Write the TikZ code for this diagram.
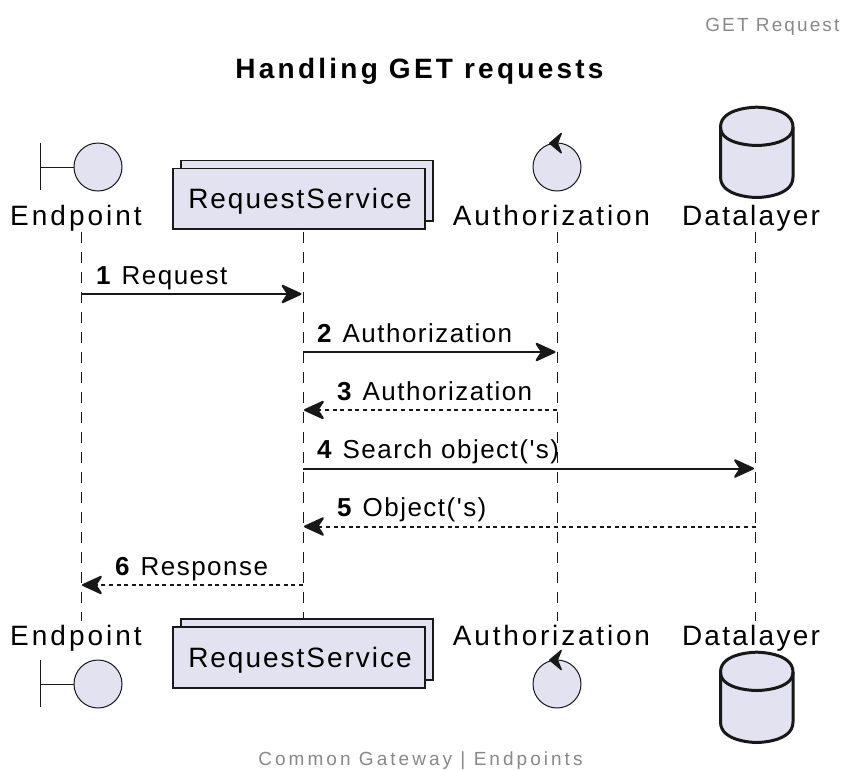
\documentclass[tikz,border=0pt]{standalone}
\usepackage{fontspec}
\setmainfont{Liberation Sans}
\usetikzlibrary{arrows.meta}
\newfontfamily\msgfont[LetterSpace=5.7]{Liberation Sans}
\newfontfamily\msgbold[LetterSpace=5.7]{Liberation Sans Bold}
\newfontfamily\titlefont[LetterSpace=11.6]{Liberation Sans Bold}
\newfontfamily\hdrfont[LetterSpace=11]{Liberation Sans}
\newfontfamily\ftrfont[LetterSpace=16]{Liberation Sans}
\newfontfamily\partA[LetterSpace=10.7]{Liberation Sans}
\newfontfamily\partB[LetterSpace=7.1]{Liberation Sans}
\newfontfamily\partC[LetterSpace=10]{Liberation Sans}
\newfontfamily\partD[LetterSpace=8.1]{Liberation Sans}
\definecolor{partfill}{HTML}{E2E2F0}
\definecolor{ink}{HTML}{181818}
\definecolor{greytext}{HTML}{888888}
\tikzset{
  x=1pt,y=-1pt,
  parttext/.style={text=black,inner sep=0pt,anchor=base},
  msgtext/.style={font=\msgfont\fontsize{26}{30}\selectfont,text=black,inner sep=0pt,anchor=base west},
  partbox/.style={draw=ink,fill=partfill,line width=1.1pt},
  partcirc/.style={draw=ink,fill=partfill,line width=1pt,circle,minimum size=48pt,inner sep=0pt},
  dbshape/.style={draw=ink,fill=partfill,line width=3pt},
  lifeline/.style={draw=ink,line width=1pt,dash pattern=on 11pt off 9pt},
  headtip/.style={-{Stealth[length=23pt,width=21pt,inset=7pt,round]}},
  call/.style={draw=ink,line width=2pt,headtip,shorten >=1.5pt},
  reply/.style={draw=ink,line width=2pt,dash pattern=on 4pt off 3.6pt,headtip,shorten >=1pt},
  ctlhead/.style={fill=ink,draw=ink,line width=1.4pt,line join=round},
}
\newcommand{\stepnum}[1]{{\msgbold #1}\hspace{11pt}}
\newcommand{\fA}{\partA\fontsize{28}{32}\selectfont}
\newcommand{\fB}{\partB\fontsize{28}{32}\selectfont}
\newcommand{\fC}{\partC\fontsize{28}{32}\selectfont}
\newcommand{\fD}{\partD\fontsize{28}{32}\selectfont}
\begin{document}
\begin{tikzpicture}
\useasboundingbox (0,0) rectangle (844,769);
% lifeline ends
\coordinate (et) at (81,231.7); \coordinate (eb) at (81,621);
\coordinate (rt) at (303,231.7); \coordinate (rb) at (303,619);
\coordinate (at) at (557,231.7); \coordinate (ab) at (557,621);
\coordinate (dt) at (755.5,231.7); \coordinate (db) at (755.5,621);
\draw[lifeline] (et) -- (eb);
\draw[lifeline] (rt) -- (rb);
\draw[lifeline] (at) -- (ab);
\draw[lifeline] (dt) -- (db);
% texts
\node[font=\hdrfont\fontsize{19}{22}\selectfont,text=greytext,anchor=base east,inner sep=0pt] (hdr) at (839.5,31) {GET Request};
\node[font=\titlefont\fontsize{28}{32}\selectfont,text=black,anchor=base,inner sep=0pt] (ttl) at (419.5,78) {Handling GET requests};
\node[font=\ftrfont\fontsize{19}{22}\selectfont,text=greytext,anchor=base,inner sep=0pt] (ftr) at (420.5,765) {Common Gateway | Endpoints};
% top participants
\draw[draw=ink,line width=1pt] (40.5,143) -- (40.5,190) (40.5,167) -- (74,167);
\node[partcirc] (ec) at (98,167) {};
\node[parttext,font=\fA] (el) at (76,225) {Endpoint};
\draw[partbox] (181,160.5) rectangle (433,221);
\draw[partbox] (173,168.5) rectangle (425,229);
\node[parttext,font=\fB] (rl) at (300,208) {RequestService};
\node[partcirc] (ac) at (557,167) {};
\path[ctlhead] (561.2,133.5) -- (549.8,143.3) -- (561.2,152.8) -- (557.3,143.3) -- cycle;
\node[parttext,font=\fC] (al) at (551.5,225) {Authorization};
\path[dbshape] (720.5,127) .. controls (720.5,107.2) and (756.75,107.2) .. (756.75,107.2)
  .. controls (756.75,107.2) and (793,107.2) .. (793,127)
  -- (793,177) .. controls (793,197.5) and (756.75,197.5) .. (756.75,197.5)
  .. controls (756.75,197.5) and (720.5,197.5) .. (720.5,177) -- cycle;
\path[dbshape,fill=none] (720.5,127) .. controls (720.5,145.5) and (756.75,145.5) .. (756.75,145.5)
  .. controls (756.75,145.5) and (793,145.5) .. (793,127);
\node[parttext,font=\fD] (dl) at (751,225) {Datalayer};
% bottom participants
\draw[draw=ink,line width=1pt] (40.5,660) -- (40.5,707) (40.5,684) -- (74,684);
\node[partcirc] (ec2) at (98,684) {};
\node[parttext,font=\fA] (el2) at (76,645) {Endpoint};
\draw[partbox] (181,619) rectangle (433,680);
\draw[partbox] (173,627) rectangle (425,688);
\node[parttext,font=\fB] (rl2) at (300,667) {RequestService};
\node[partcirc] (ac2) at (557,684) {};
\path[ctlhead] (561.2,650.5) -- (549.8,660) -- (561.2,669.5) -- (557.3,660) -- cycle;
\node[parttext,font=\fC] (al2) at (551.5,645) {Authorization};
\path[dbshape] (720.5,672) .. controls (720.5,652.2) and (756.75,652.2) .. (756.75,652.2)
  .. controls (756.75,652.2) and (793,652.2) .. (793,672)
  -- (793,722) .. controls (793,742.5) and (756.75,742.5) .. (756.75,742.5)
  .. controls (756.75,742.5) and (720.5,742.5) .. (720.5,722) -- cycle;
\path[dbshape,fill=none] (720.5,672) .. controls (720.5,690.5) and (756.75,690.5) .. (756.75,690.5)
  .. controls (756.75,690.5) and (793,690.5) .. (793,672);
\node[parttext,font=\fD] (dl2) at (751,645) {Datalayer};
% message rows
\coordinate (y1) at (0,294); \coordinate (y2) at (0,352); \coordinate (y3) at (0,410);
\coordinate (y4) at (0,468.5); \coordinate (y5) at (0,526.5); \coordinate (y6) at (0,585);
\draw[call] (et |- y1) -- (rt |- y1);
\draw[call] (rt |- y2) -- (at |- y2);
\draw[reply] (at |- y3) -- (rt |- y3);
\draw[call] (rt |- y4) -- (dt |- y4);
\draw[reply] (dt |- y5) -- (rt |- y5);
\draw[reply] (rt |- y6) -- (et |- y6);
\node[msgtext] (m1) at (96,284) {\stepnum{1}Request};
\node[msgtext] (m2) at (317,342) {\stepnum{2}Authorization};
\node[msgtext] (m3) at (337,400) {\stepnum{3}Authorization};
\node[msgtext] (m4) at (317,458.5) {\stepnum{4}Search object('s)};
\node[msgtext] (m5) at (337,516.5) {\stepnum{5}Object('s)};
\node[msgtext] (m6) at (115,575) {\stepnum{6}Response};
\end{tikzpicture}
\end{document}
